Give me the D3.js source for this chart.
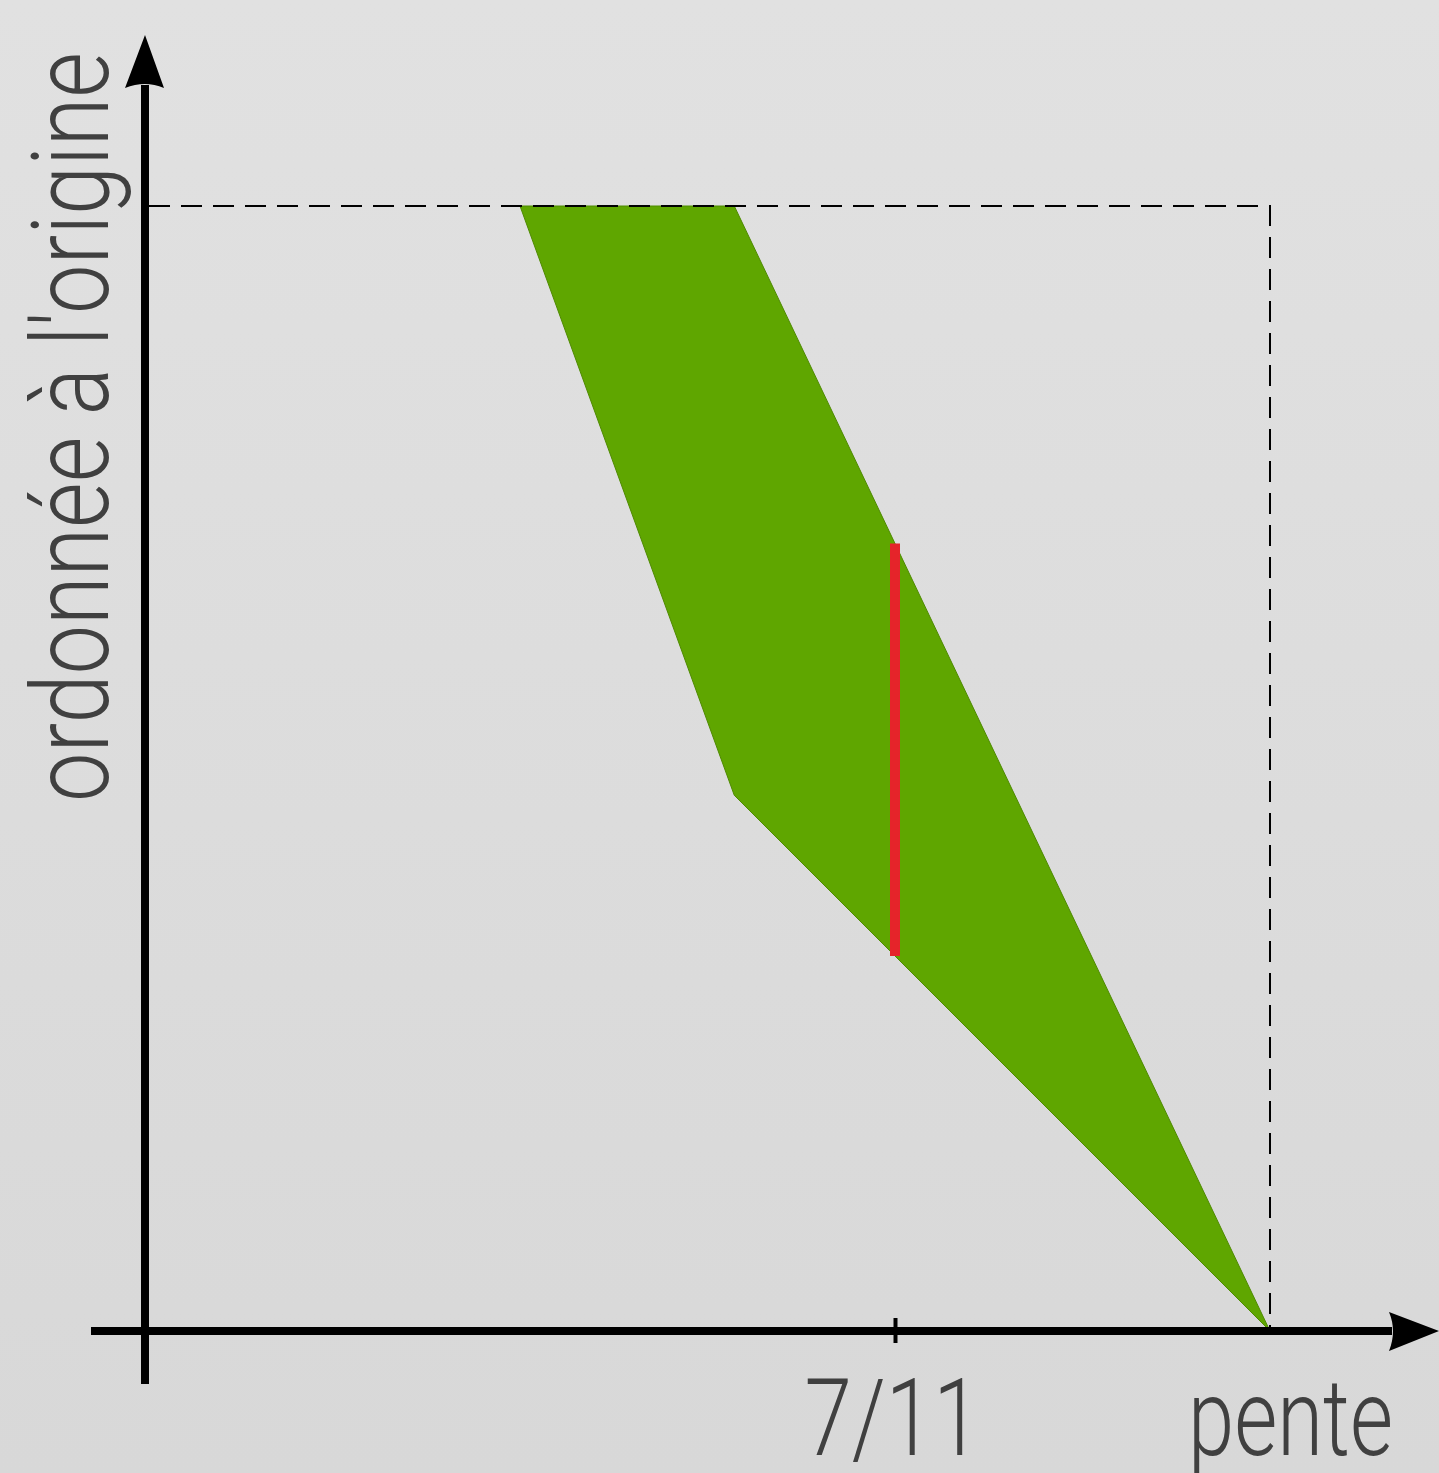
<!DOCTYPE html>
<html>
<head>
<meta charset="utf-8">
<script src="https://cdn.jsdelivr.net/npm/d3@7"></script>
<style>
  html, body { margin: 0; padding: 0; }
  body { width: 1439px; height: 1473px; overflow: hidden; }
  text { font-family: Roboto, 'Liberation Sans Narrow', sans-serif; font-weight: 300; fill: #404040; }
</style>
</head>
<body>
<div id="chart"></div>
<script>
/* global d3 */

// Data, in units of 1/22 (pente) and same for ordonnee
const regionX = [7, 11, 21, 11]
const regionY = [21, 21, 0, 10]
const redX = 14
const redY = [7, 14.7]
const boundX = 21
const boundY = 21
const tickValues = [14]
const tickLabels = ['7/11']
const xLabel = 'pente'
const yLabel = "ordonnée à l'origine"

// Our canvas
const width = 1439,
  height = 1473

let svg = d3.select('#chart')
  .append('svg')
  .attr('width', width)
  .attr('height', height)

// background gradient
let defs = svg.append('defs')
let grad = defs.append('linearGradient')
  .attr('id', 'bg')
  .attr('x1', 0).attr('y1', 0).attr('x2', 0).attr('y2', 1)
grad.append('stop').attr('offset', '0%').attr('stop-color', '#e1e1e1')
grad.append('stop').attr('offset', '100%').attr('stop-color', '#d8d8d8')

svg.append('rect')
  .attr('width', width)
  .attr('height', height)
  .attr('fill', 'url(#bg)')

// scales
let x = d3.scaleLinear()
  .domain([0, 21])
  .range([145, 1270])
let y = d3.scaleLinear()
  .domain([0, 21])
  .range([1331, 206])

// green region
let pts = regionX.map((d, i) => [x(d), y(regionY[i])])
svg.append('path')
  .attr('d', d3.line()(pts) + 'Z')
  .attr('fill', '#5fa600')
  .attr('stroke', '#4e8a00')
  .attr('stroke-width', 1)

// dashed bounds
svg.append('path')
  .attr('d', d3.line()([[x(0) + 4, y(boundY)], [x(boundX), y(boundY)], [x(boundX), y(0)]]))
  .attr('fill', 'none')
  .attr('stroke', '#000')
  .attr('stroke-width', 2)
  .attr('stroke-dasharray', '21,11')

// red segment
svg.append('line')
  .attr('x1', x(redX)).attr('x2', x(redX))
  .attr('y1', y(redY[0])).attr('y2', y(redY[1]))
  .attr('stroke', '#e5242a')
  .attr('stroke-width', 10)

// axes lines
svg.append('line')
  .attr('x1', 91).attr('x2', 1392)
  .attr('y1', y(0)).attr('y2', y(0))
  .attr('stroke', '#000').attr('stroke-width', 8)
svg.append('line')
  .attr('x1', x(0)).attr('x2', x(0))
  .attr('y1', 1384).attr('y2', 85)
  .attr('stroke', '#000').attr('stroke-width', 8)

// arrow heads
let ax = 1439, ay = y(0)
svg.append('path')
  .attr('d', `M${ax},${ay} L${ax - 50},${ay - 19} Q${ax - 42},${ay} ${ax - 50},${ay + 20} Z`)
  .attr('fill', '#000')
let bx = x(0), by = 35
svg.append('path')
  .attr('d', `M${bx},${by} L${bx - 20},${by + 53} Q${bx},${by + 45} ${bx + 19},${by + 53} Z`)
  .attr('fill', '#000')

// tick with the library axis
let xAxis = d3.axisBottom(x)
  .tickValues(tickValues)
  .tickFormat((d, i) => tickLabels[i])
  .tickSize(12)
  .tickSizeOuter(0)

let axisG = svg.append('g')
  .attr('transform', `translate(0,${y(0)})`)
  .call(xAxis)
axisG.select('.domain').remove()
axisG.selectAll('.tick line')
  .attr('y1', -13)
  .attr('stroke', '#000')
  .attr('stroke-width', 4)
axisG.selectAll('.tick text')
  .attr('y', 124)
  .attr('dy', 0)
  .attr('x', -3)
  .attr('fill', '#404040')
  .attr('font-family', 'Roboto, sans-serif')
  .attr('font-weight', 300)
  .attr('font-size', 107)
  .attr('textLength', 176)
  .attr('lengthAdjust', 'spacingAndGlyphs')

// axis labels
svg.append('text')
  .attr('x', 1188)
  .attr('y', 1455)
  .attr('font-size', 107)
  .attr('textLength', 205)
  .attr('lengthAdjust', 'spacingAndGlyphs')
  .text(xLabel)

svg.append('text')
  .attr('transform', 'translate(108,802) rotate(-90)')
  .attr('font-size', 107)
  .attr('textLength', 750)
  .attr('lengthAdjust', 'spacingAndGlyphs')
  .text(yLabel)
</script>
</body>
</html>
